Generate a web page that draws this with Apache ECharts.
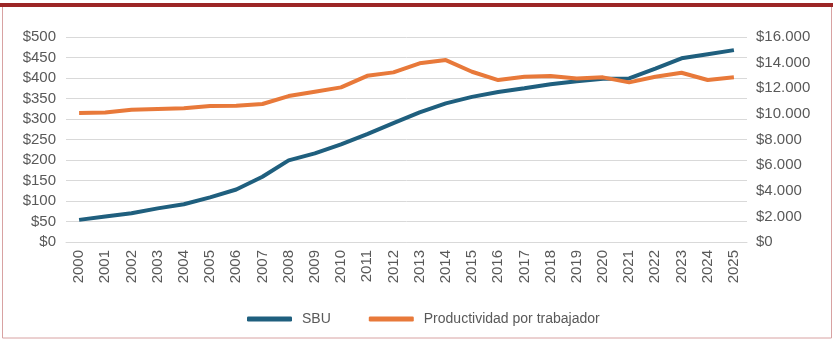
<!DOCTYPE html>
<html>
<head>
<meta charset="utf-8">
<style>
html,body{margin:0;padding:0;background:#fff;}
#c{width:833px;height:340px;}
</style>
<script src="https://cdn.jsdelivr.net/npm/echarts@6/dist/echarts.min.js"></script>
</head>
<body>
<div id="c"></div>
<script>
const years = ['2000','2001','2002','2003','2004','2005','2006','2007','2008','2009','2010','2011','2012','2013','2014','2015','2016','2017','2018','2019','2020','2021','2022','2023','2024','2025'];
const sbu = [54, 62, 70, 82, 92, 109, 128, 159, 199, 216, 238, 263, 290, 316, 338, 354, 366, 375, 385, 392, 398, 399, 423, 448, 458, 468];
const productividad = [10070, 10100, 10320, 10380, 10430, 10610, 10640, 10770, 11390, 11730, 12070, 12970, 13240, 13950, 14200, 13290, 12640, 12900, 12950, 12770, 12850, 12460, 12900, 13210, 12640, 12850];
const leftTicks = {min: 0, max: 500, interval: 50};
const rightTicks = {min: 0, max: 16000, interval: 2000};

function thousands(v){
  return String(v).replace(/\B(?=(\d{3})+(?!\d))/g, '.');
}

const chart = echarts.init(document.getElementById('c'));
const font = 'Liberation Sans, Arial, sans-serif';
const txt = '#595959';
chart.setOption({
  animation: false,
  textStyle: {fontFamily: font},
  graphic: [
    {type: 'rect', shape: {x: 2.5, y: 5.5, width: 829, height: 332.5}, style: {fill: 'none', stroke: '#d8a2a2', lineWidth: 1}},
    {type: 'rect', shape: {x: 0, y: 3, width: 833, height: 4}, style: {fill: '#9c2626'}}
  ],
  grid: {left: 66, right: 86, top: 37, bottom: 98},
  legend: {
    bottom: 9,
    left: 242,
    icon: 'roundRect',
    itemWidth: 45,
    itemHeight: 5,
    itemGap: 38,
    textStyle: {color: txt, fontSize: 14, fontFamily: font, padding: [0, 0, 0, 5]},
    data: ['SBU', 'Productividad por trabajador']
  },
  xAxis: {
    type: 'category',
    data: years,
    boundaryGap: true,
    axisLine: {show: true, lineStyle: {color: '#d9d9d9', width: 1}},
    axisTick: {show: false},
    axisLabel: {rotate: 90, color: txt, fontSize: 15, margin: 8, fontFamily: font}
  },
  yAxis: [
    {
      type: 'value', min: leftTicks.min, max: leftTicks.max, interval: leftTicks.interval,
      axisLine: {show: false}, axisTick: {show: false},
      splitLine: {lineStyle: {color: '#d9d9d9', width: 1}},
      axisLabel: {color: txt, fontSize: 15, margin: 10, fontFamily: font, formatter: v => '$' + v}
    },
    {
      type: 'value', min: rightTicks.min, max: rightTicks.max, interval: rightTicks.interval,
      position: 'right',
      axisLine: {show: false}, axisTick: {show: false},
      splitLine: {show: false},
      axisLabel: {color: txt, fontSize: 15, margin: 9, fontFamily: font, formatter: v => '$' + thousands(v)}
    }
  ],
  series: [
    {
      name: 'SBU', type: 'line', data: sbu, yAxisIndex: 0,
      showSymbol: false, symbol: 'none',
      lineStyle: {color: '#1f5f7e', width: 4},
      itemStyle: {color: '#1f5f7e'}
    },
    {
      name: 'Productividad por trabajador', type: 'line', data: productividad, yAxisIndex: 1,
      showSymbol: false, symbol: 'none',
      lineStyle: {color: '#e8793a', width: 4},
      itemStyle: {color: '#e8793a'}
    }
  ]
});
</script>
</body>
</html>
